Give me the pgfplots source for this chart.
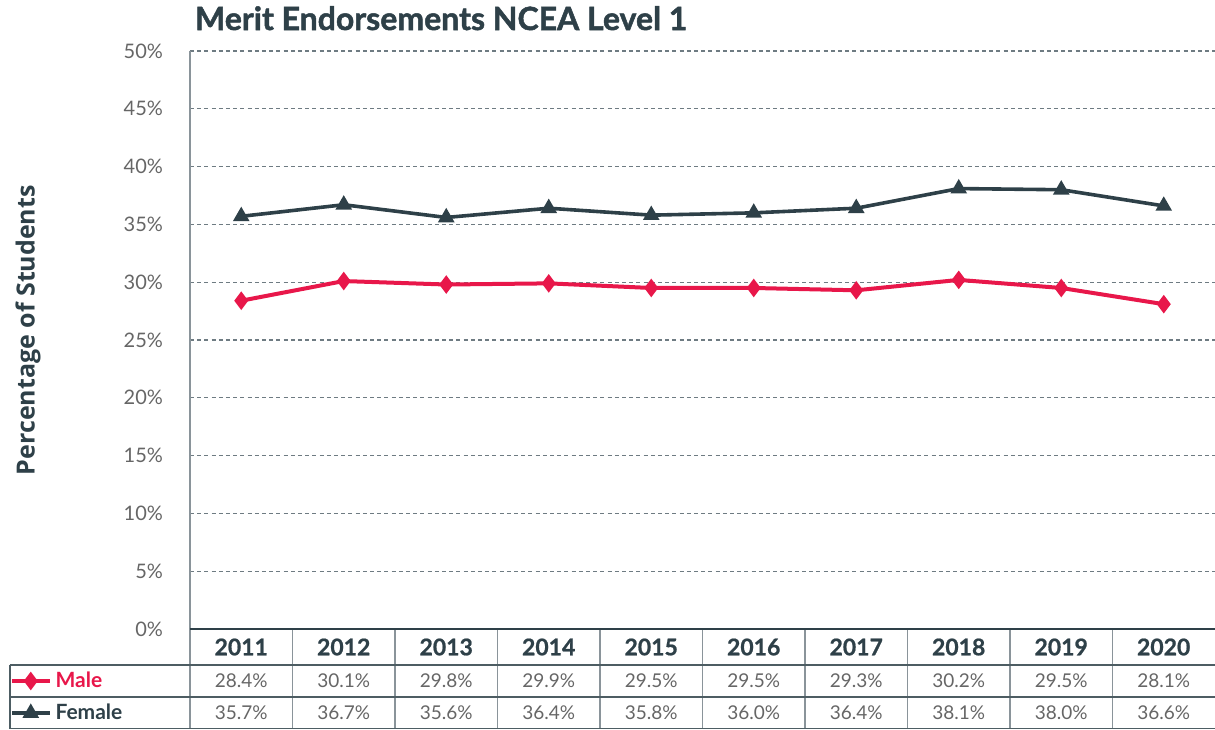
\documentclass[border=0pt]{standalone}
\usepackage{fontspec}
\setmainfont{Lato}
\newfontfamily\osans{Open Sans}
\usepackage{pgfplots}
\usepackage{pgfplotstable}
\pgfplotsset{compat=1.18}

\definecolor{malered}{HTML}{E8174A}
\definecolor{femdark}{HTML}{2E4048}
\definecolor{tickgray}{HTML}{666666}
\definecolor{gridgray}{HTML}{6E7B82}
\definecolor{rulegray}{HTML}{8A949A}

\pgfplotstableread{
year male female
2011 28.4 35.7
2012 30.1 36.7
2013 29.8 35.6
2014 29.9 36.4
2015 29.5 35.8
2016 29.5 36.0
2017 29.3 36.4
2018 30.2 38.1
2019 29.5 38.0
2020 28.1 36.6
}\merit

\begin{document}
\begin{tikzpicture}
\path[use as bounding box] (-95pt,-50pt) rectangle (512.5pt,314.5pt);
\begin{axis}[
  name=ax,
  at={(0,0)}, anchor=south west,
  scale only axis,
  width=512.5pt, height=289pt,
  xmin=2010.5, xmax=2020.5,
  ymin=0, ymax=50,
  clip=false,
  axis line style={draw=none},
  major tick length=0pt,
  xtick={2011,...,2020},
  ytick={5,10,...,50},
  extra y ticks={0},
  extra y tick style={grid=none},
  ymajorgrids=true,
  grid style={gridgray, line width=0.6pt, dash pattern=on 2pt off 1.6pt},
  /pgf/number format/assume math mode=true,
  xticklabel style={anchor=center, yshift=-9pt,
    font=\fontsize{11.5}{13}\selectfont\bfseries\addfontfeatures{FakeBold=0.8}, text=femdark,
    /pgf/number format/1000 sep={}},
  yticklabel={\pgfmathprintnumber{\tick}\%},
  yticklabel style={font=\fontsize{10}{12}\selectfont, text=tickgray, xshift=-10pt},
  title={Merit Endorsements NCEA Level 1},
  every axis title/.style={at={(axis description cs:0,1)}, anchor=base west, yshift=10.5pt,
    font=\fontsize{16}{18}\selectfont\bfseries\addfontfeatures{FakeBold=1.5}, text=femdark, xshift=-1pt},
  ylabel={Percentage of Students},
  every axis y label/.style={at={(axis description cs:-0.158,0.517)}, rotate=90, anchor=center,
    font=\osans\fontsize{12.5}{14}\selectfont\bfseries, text=femdark},
  legend style={at={(axis description cs:-0.1756,-0.0623)}, anchor=north west,
    draw=none, fill=none, inner sep=0pt, outer sep=0pt, row sep=0pt,
    nodes={minimum height=16pt, inner ysep=0pt, inner xsep=2pt, anchor=west},
    font=\fontsize{10.5}{12}\selectfont\bfseries},
  legend cell align=left,
  legend image code/.code={\draw[mark repeat=2, mark phase=2, #1]
    plot coordinates {(0cm,0cm) (0.33cm,0cm) (0.66cm,0cm)};},
]
\addplot[malered, line width=2pt, mark=diamond*, mark size=3pt] table[x=year, y=male]{\merit};
\addlegendentry{\textcolor{malered}{Male}}
\addplot[femdark, line width=1.8pt, mark=triangle*, mark size=3pt] table[x=year, y=female]{\merit};
\addlegendentry{\textcolor{femdark}{Female}}

\addplot[draw=none, forget plot, point meta=explicit, nodes near coords={\pgfmathprintnumber[fixed,fixed zerofill,precision=1]{\pgfplotspointmeta}\%},
  nodes near coords align=center,
  every node near coord/.append style={anchor=center, font=\fontsize{9.5}{11}\selectfont, text=tickgray}]
  table[x=year, y expr=-4.5, meta=male]{\merit};
\addplot[draw=none, forget plot, point meta=explicit, nodes near coords={\pgfmathprintnumber[fixed,fixed zerofill,precision=1]{\pgfplotspointmeta}\%},
  nodes near coords align=center,
  every node near coord/.append style={anchor=center, font=\fontsize{9.5}{11}\selectfont, text=tickgray}]
  table[x=year, y expr=-7.27, meta=female]{\merit};
\end{axis}
\begin{scope}[shift={(ax.south west)}]
  % y axis line
  \draw[rulegray, line width=0.8pt] (0,289pt) -- (0,-50pt);
  % column rules
  \foreach \k in {1,...,9}
    \draw[rulegray, line width=0.8pt] ({\k*51.25pt},0) -- ({\k*51.25pt},-50pt);
  % legend column border
  \draw[femdark!85, line width=0.6pt] (-90pt,-18pt) -- (-90pt,-50pt);
  % horizontal rules
  \draw[femdark!85, line width=0.6pt] (-90pt,-18pt) -- (512.5pt,-18pt);
  \draw[femdark!85, line width=0.6pt] (-90pt,-34pt) -- (512.5pt,-34pt);
  \draw[femdark!85, line width=0.6pt] (-90pt,-49.8pt) -- (512.5pt,-49.8pt);
  \draw[femdark, line width=1.4pt] (0,0) -- (512.5pt,0);
\end{scope}
\end{tikzpicture}
\end{document}
